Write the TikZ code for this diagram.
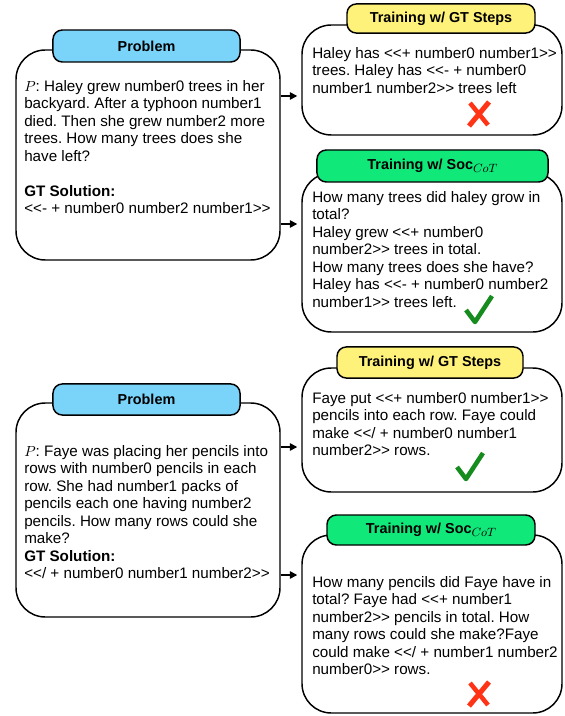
\documentclass[tikz,border=0pt]{standalone}
\usepackage{fontspec}
\setmainfont{Liberation Sans}[Ligatures=TeXOff]
\usetikzlibrary{fit,arrows.meta}

\definecolor{probblue}{RGB}{122,212,250}
\definecolor{stepyellow}{RGB}{255,242,122}
\definecolor{socgreen}{RGB}{16,232,122}
\definecolor{okgreen}{RGB}{22,140,30}
\definecolor{nored}{RGB}{255,52,22}

\newcommand{\SocCoT}{Soc\raisebox{-2.5pt}{\fontsize{9.5}{10}\selectfont$CoT$}}

\begin{document}
\begin{tikzpicture}[
				x=0.75pt, y=-0.75pt,
				% outer rounded boxes and the header tabs on top of them
				bubble/.style={draw, line width=1.1pt, rounded corners=22pt, inner sep=0pt, fill=white},
				tab/.style={draw, line width=1.1pt, rounded corners=7pt, inner sep=0pt, font=\fontsize{10.8}{12}\selectfont\bfseries},
				txt/.style={anchor=north west, align=left, inner sep=0pt, font=\fontsize{11.4}{13.1}\selectfont\frenchspacing},
				arr/.style={-{Triangle[length=5.5pt,width=5.5pt]}, line width=1.1pt, shorten >=3pt},
				okmark/.pic={
						\draw[okgreen, line width=3.4pt, line join=round] (-13,2) -- (-4,14) -- (13,-12);
					},
				nomark/.pic={
						\draw[nored, line width=3.4pt] (-9,-11) -- (9,11);
						\draw[nored, line width=3.8pt] (10,-12) -- (-10,12);
					}
				]
				\useasboundingbox (0,0) rectangle (564,716);
				
				% first problem
				\node[bubble, fit={(16,50) (280,260)}] (prob1) {};
				\node[tab, fill=probblue, minimum width=140.3pt, minimum height=24pt] (prob1head) at (146.5,46) {Problem};
				\node[txt] (prob1txt) at (24,80) {$P$: Haley grew number0 trees in her\\ backyard. After a typhoon number1\\ died. Then she grew number2 more\\ trees. How many trees does she\\ have left?\\ ~\\ \textbf{GT Solution:}\\ <<- + number0 number2 number1>>};
				
				\node[bubble, fit={(302,25) (562,135)}] (gt1) {};
				\node[tab, fill=stepyellow, minimum width=141pt, minimum height=21.8pt] (gt1head) at (441,18.5) {Training w/ GT Steps};
				\node[txt] (gt1txt) at (312,47) {Haley has <<+ number0 number1>>\\ trees. Haley has <<- + number0\\ number1 number2>> trees left};
				\pic at (479,114) {nomark};
				
				\node[bubble, fit={(302,173) (562,332)}] (soc1) {};
				\node[tab, fill=socgreen, minimum width=173.3pt, minimum height=24pt] (soc1head) at (432.5,166) {Training w/ \SocCoT};
				\node[txt] (soc1txt) at (312,191) {How many trees did haley grow in\\ total?\\ Haley grew <<+ number0\\ number2>> trees in total.\\ How many trees does she have?\\ Haley has <<- + number0 number2\\ number1>> trees left.};
				\pic at (479,308) {okmark};
				
				\coordinate (a1) at (0,96);
				\coordinate (a2) at (0,224);
				\draw[arr] (prob1.east |- a1) -- (gt1.west |- a1);
				\draw[arr] (prob1.east |- a2) -- (soc1.west |- a2);
				
				% second problem
				\node[bubble, fit={(16,403) (280,617)}] (prob2) {};
				\node[tab, fill=probblue, minimum width=140.3pt, minimum height=23.3pt] (prob2head) at (146.5,399.5) {Problem};
				\node[txt] (prob2txt) at (24,445) {$P$: Faye was placing her pencils into\\ rows with number0 pencils in each\\ row. She had number1 packs of\\ pencils each one having number2\\ pencils. How many rows could she\\ make?\\ \textbf{GT Solution:}\\ <</ + number0 number1 number2>>};
				
				\node[bubble, fit={(302,368) (562,492)}] (gt2) {};
				\node[tab, fill=stepyellow, minimum width=139.5pt, minimum height=23.3pt] (gt2head) at (430,362.5) {Training w/ GT Steps};
				\node[txt] (gt2txt) at (312,392) {Faye put <<+ number0 number1>>\\ pencils into each row. Faye could\\ make <</ + number0 number1\\ number2>> rows.};
				\pic at (470,465) {okmark};
				
				\node[bubble, fit={(302,535) (562,713)}] (soc2) {};
				\node[tab, fill=socgreen, minimum width=156pt, minimum height=22.5pt] (soc2head) at (431,530) {Training w/ \SocCoT};
				\node[txt] (soc2txt) at (312,576) {How many pencils did Faye have in\\ total? Faye had <<+ number1\\ number2>> pencils in total. How\\ many rows could she make?Faye\\ could make <</ + number1 number2\\ number0>> rows.};
				\pic at (479,694) {nomark};
				
				\coordinate (b1) at (0,447);
				\coordinate (b2) at (0,575);
				\draw[arr] (prob2.east |- b1) -- (gt2.west |- b1);
				\draw[arr] (prob2.east |- b2) -- (soc2.west |- b2);
			\end{tikzpicture}
\end{document}
